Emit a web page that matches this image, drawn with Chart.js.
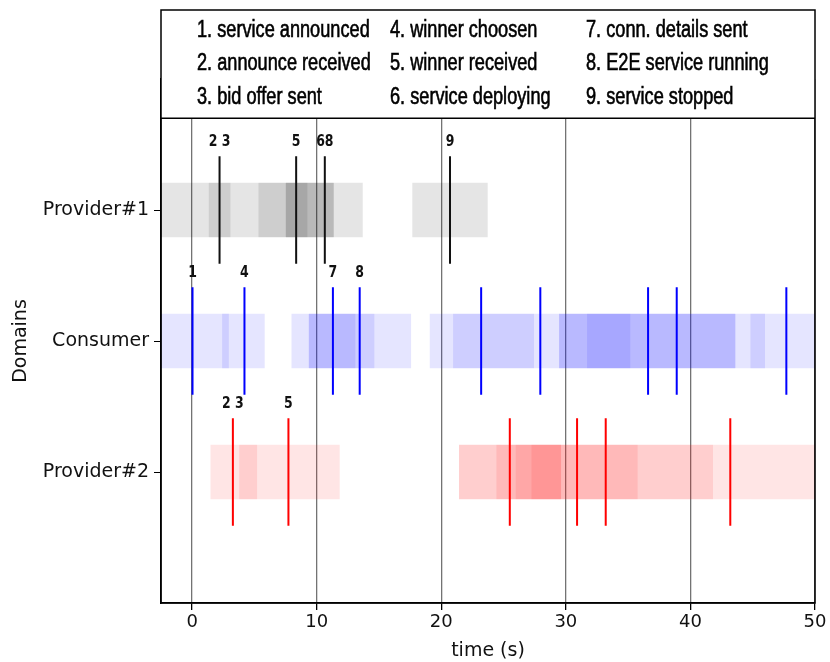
<!DOCTYPE html>
<html>
<head>
<meta charset="utf-8">
<script src="https://cdn.jsdelivr.net/npm/chart.js@4/dist/chart.umd.min.js"></script>
<style>
body{margin:0;background:#fff}
</style>
</head>
<body>
<canvas id="chart" width="830" height="662"></canvas>
<script>
// rows on the y axis (0 = bottom)
const domains = ['Provider#2', 'Consumer', 'Provider#1'];
const xTicks = [0, 10, 20, 30, 40, 50];

// activity bands [start, end] in seconds, overlapping ones stack up darker
const p1Bands = [[-2.5, 13.67], [1.36, 3.05], [5.35, 11.34], [7.54, 11.34], [7.54, 9.23], [17.7, 23.7]];
const consumerBands = [[-2.5, 5.8], [2.43, 2.92], [8.0, 17.55], [9.39, 14.6], [9.39, 13.08],
  [19.1, 50], [20.97, 27.42], [29.48, 43.58], [29.48, 35.15], [31.73, 43.58], [44.84, 45.96]];
const p2Bands = [[1.5, 11.82], [3.8, 5.19], [21.45, 50], [21.45, 41.79], [24.45, 35.74], [26.0, 29.59], [27.26, 29.59]];

// event markers
const p1Events = [2.2, 8.35, 10.65, 20.7];
const p1Labels = ['2 3', '5', '68', '9'];
const consumerEvents = [0.03, 4.2, 11.3, 13.45, 23.2, 27.95, 36.6, 38.9, 47.7];
const consumerLabels = ['1', '4', '7', '8', '', '', '', '', ''];
const p2Events = [3.27, 7.73, 25.5, 30.9, 33.2, 43.2];
const p2Labels = ['2 3', '5', '', '', '', ''];

const legendCols = [
  ['1. service announced', '2. announce received', '3. bid offer sent'],
  ['4. winner choosen', '5. winner received', '6. service deploying'],
  ['7. conn. details sent', '8. E2E service running', '9. service stopped']
];

const half = 0.41;

function bandData(bands, row) {
  return bands.map(b => ({x: b, y: row}));
}
function lineData(times, row) {
  var pts = [];
  times.forEach(t => {
    pts.push({x: t, y: row - half}, {x: t, y: row + half}, {x: null, y: null});
  });
  return pts;
}

const rows = [
  {row: 2, times: p1Events, labels: p1Labels},
  {row: 1, times: consumerEvents, labels: consumerLabels},
  {row: 0, times: p2Events, labels: p2Labels}
];

function squeezeText(ctx, text, px, py, font, sx, align, stroke) {
  ctx.save();
  ctx.translate(px, py);
  ctx.scale(sx, 1);
  ctx.font = font;
  ctx.textAlign = align;
  ctx.textBaseline = 'middle';
  if (stroke) {
    ctx.lineWidth = stroke;
    ctx.strokeStyle = ctx.fillStyle;
    ctx.strokeText(text, 0, 0);
  }
  ctx.fillText(text, 0, 0);
  ctx.restore();
}

const overlay = {
  id: 'overlay',
  afterDatasetsDraw(chart) {
    const {ctx, scales: {x, y}} = chart;
    ctx.save();
    ctx.fillStyle = '#111';
    rows.forEach(r => {
      r.times.forEach((t, i) => {
        if (!r.labels[i]) return;
        squeezeText(ctx, r.labels[i], x.getPixelForValue(t), y.getPixelForValue(r.row + 0.52),
          'bold 16px "DejaVu Sans"', 0.78, 'center');
      });
    });
    ctx.restore();
  },
  afterDraw(chart) {
    const {ctx, chartArea: a, scales: {y}} = chart;
    const top = a.top - 69;
    const boxBottom = y.getPixelForValue(2.7);
    ctx.save();
    ctx.fillStyle = '#fff';
    ctx.fillRect(a.left, top, a.right - a.left, boxBottom - top);
    ctx.strokeStyle = '#000';
    ctx.lineWidth = 1.5;
    ctx.strokeRect(a.left, top, a.right - a.left, a.bottom - top);
    ctx.beginPath();
    ctx.moveTo(a.left, boxBottom);
    ctx.lineTo(a.right, boxBottom);
    ctx.stroke();
    ctx.fillStyle = '#000';
    const colX = [36, 229, 425];
    const rowY = [21, 54, 88];
    legendCols.forEach((col, c) => {
      col.forEach((txt, r) => {
        squeezeText(ctx, txt, a.left + colX[c], top + rowY[r], '23px "Liberation Sans"', 0.79, 'left', 0.6);
      });
    });
    ctx.restore();
  }
};

const ctx = document.getElementById('chart').getContext('2d');
new Chart(ctx, {
  data: {
    datasets: [
      {type: 'line', data: lineData(p1Events, 2), borderColor: '#111', borderWidth: 2, pointRadius: 0, order: 0},
      {type: 'line', data: lineData(consumerEvents, 1), borderColor: '#0000ff', borderWidth: 2, pointRadius: 0, order: 0},
      {type: 'line', data: lineData(p2Events, 0), borderColor: '#ff0000', borderWidth: 2, pointRadius: 0, order: 0},
      {type: 'bar', indexAxis: 'y', grouped: false, barThickness: 54, borderWidth: 0,
        data: bandData(p1Bands, 2), backgroundColor: 'rgba(0,0,0,0.1)', order: 1},
      {type: 'bar', indexAxis: 'y', grouped: false, barThickness: 54, borderWidth: 0,
        data: bandData(consumerBands, 1), backgroundColor: 'rgba(0,0,255,0.1)', order: 1},
      {type: 'bar', indexAxis: 'y', grouped: false, barThickness: 54, borderWidth: 0,
        data: bandData(p2Bands, 0), backgroundColor: 'rgba(255,0,0,0.1)', order: 1}
    ]
  },
  options: {
    responsive: false,
    animation: false,
    layout: {padding: {top: 79, right: 15, left: 0, bottom: 0}},
    plugins: {legend: {display: false}, tooltip: {enabled: false}},
    scales: {
      x: {
        type: 'linear', min: -2.5, max: 50,
        afterBuildTicks: s => { s.ticks = xTicks.map(v => ({value: v})); },
        afterFit: s => { s.height = 59; },
        grid: {color: 'rgba(0,0,0,0.55)', lineWidth: 1.3, tickColor: '#000', tickLength: 7},
        border: {color: '#000', width: 1.5},
        ticks: {color: '#111', padding: 2, font: {family: 'DejaVu Sans', size: 18}},
        title: {display: true, text: 'time (s)', color: '#111', padding: {top: 0, bottom: 0},
          font: {family: 'DejaVu Sans', size: 19}}
      },
      y: {
        type: 'linear', min: -1, max: 3, offset: false,
        afterBuildTicks: s => { s.ticks = [0, 1, 2].map(v => ({value: v})); },
        afterFit: s => { s.width = 161; },
        grid: {drawOnChartArea: false, offset: false, tickColor: '#000', tickLength: 7},
        border: {color: '#000', width: 1.5},
        ticks: {color: '#111', padding: 5, font: {family: 'DejaVu Sans', size: 19},
          callback: v => domains[v]},
        title: {display: true, text: 'Domains', color: '#111', padding: {top: 10, bottom: 8},
          font: {family: 'DejaVu Sans', size: 19}}
      }
    }
  },
  plugins: [overlay]
});
</script>
</body>
</html>
